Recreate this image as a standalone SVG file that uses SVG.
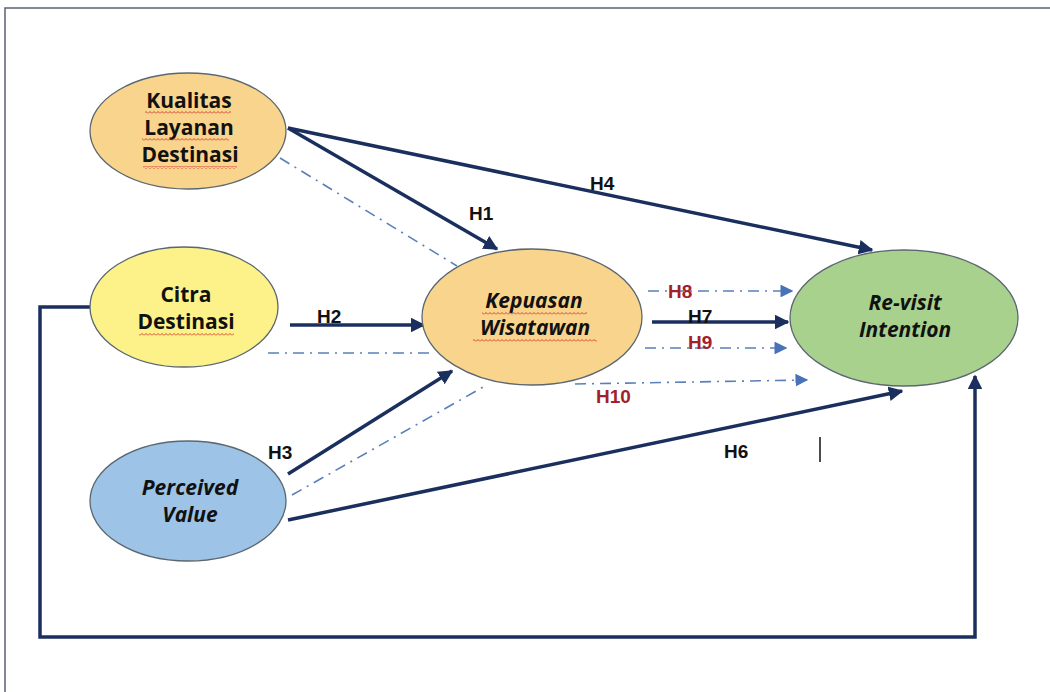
<svg xmlns="http://www.w3.org/2000/svg" width="1050" height="692" viewBox="0 0 1050 692">
<style>
.node{stroke:#5b6770;stroke-width:1.3}
.nt{font-family:"Open Sans","Liberation Sans",sans-serif;font-weight:700;font-size:21px;fill:#111;text-anchor:middle}
.it{font-style:italic}
.solid{fill:none;stroke:#1b2f5e;stroke-width:3.5}
.dd{fill:none;stroke:#5a7fba;stroke-width:1.6;stroke-dasharray:11 6 2 6}
.lbl{font-family:"Liberation Sans",Arial,sans-serif;font-weight:700;font-size:19px;fill:#111}
.red{fill:#a31f2a}
.wave{fill:url(#wv)}
</style>
<defs>
<marker id="ah" viewBox="0 0 10 10" refX="9" refY="5" markerWidth="4.2" markerHeight="4.2" orient="auto" markerUnits="strokeWidth"><path d="M0,0 L10,5 L0,10 Z" fill="#1b2f5e"/></marker>
<marker id="al" viewBox="0 0 10 10" refX="9" refY="5" markerWidth="8" markerHeight="8" orient="auto" markerUnits="strokeWidth"><path d="M0,0 L10,5 L0,10 Z" fill="#4a72b8"/></marker>
<pattern id="wv" width="4" height="3" patternUnits="userSpaceOnUse"><path d="M0,2.5 L2,0.5 L4,2.5" fill="none" stroke="#d0352b" stroke-width="0.9"/></pattern>
</defs>
<rect width="1050" height="692" fill="#fff"/>
<path d="M5,692 V8 H1050" fill="none" stroke="#5a6270" stroke-width="1.5"/>

<g id="connectors">
<path class="dd" d="M280,158 L457,266"/>
<path class="dd" d="M268,353 L432,353"/>
<path class="dd" d="M292,495 L485,386"/>
<path class="solid" marker-end="url(#ah)" d="M288,128 L497,249"/>
<path class="solid" marker-end="url(#ah)" d="M288,128 L872,250"/>
<path class="solid" marker-end="url(#ah)" d="M290,325 L424,325"/>
<path class="solid" marker-end="url(#ah)" d="M288,474 L452,371"/>
<path class="solid" marker-end="url(#ah)" d="M288,520 L902,391"/>
<path class="solid" marker-end="url(#ah)" d="M652,322 L788,322"/>
<path class="dd" marker-end="url(#al)" d="M648,291 L792,291"/>
<path class="dd" marker-end="url(#al)" d="M645,348 L786,348"/>
<path class="dd" marker-end="url(#al)" d="M575,384 L807,380"/>
<path class="solid" marker-end="url(#ah)" d="M91,307 H40 V637 H975 V376"/>
<text class="lbl" x="469" y="220">H1</text>
<text class="lbl" x="590" y="190">H4</text>
<text class="lbl" x="317" y="323">H2</text>
<text class="lbl" x="268" y="459">H3</text>
<text class="lbl red" x="668" y="298">H8</text>
<text class="lbl" x="688" y="323">H7</text>
<text class="lbl red" x="688" y="349">H9</text>
<text class="lbl red" x="596" y="403">H10</text>
<text class="lbl" x="724" y="458">H6</text>
<path d="M820,437 V462" stroke="#111" stroke-width="1.5"/>
</g>

<g id="kualitas">
<ellipse class="node" cx="188" cy="131" rx="98" ry="58" fill="#f9d48d"/>
<text class="nt" x="189" y="108">Kualitas</text>
<text class="nt" x="189" y="135">Layanan</text>
<text class="nt" x="190" y="162">Destinasi</text>
<rect class="wave" x="145" y="111" width="86" height="3"/>
<rect class="wave" x="142" y="138" width="87" height="3"/>
<rect class="wave" x="143" y="166" width="94" height="3"/>
</g>

<g id="citra">
<ellipse class="node" cx="184" cy="307" rx="94" ry="60" fill="#fdf28a"/>
<text class="nt" x="186" y="302">Citra</text>
<text class="nt" x="186" y="329">Destinasi</text>
<rect class="wave" x="139" y="333" width="95" height="3"/>
</g>

<g id="perceived">
<ellipse class="node" cx="188" cy="501" rx="98" ry="60" fill="#9dc3e6"/>
<text class="nt it" x="190" y="495">Perceived</text>
<text class="nt it" x="190" y="522">Value</text>
</g>

<g id="kepuasan">
<ellipse class="node" cx="532" cy="317" rx="110" ry="68" fill="#f9d48d"/>
<text class="nt it" x="534" y="308">Kepuasan</text>
<text class="nt it" x="535" y="335">Wisatawan</text>
<rect class="wave" x="482" y="312" width="105" height="3"/>
<rect class="wave" x="473" y="339" width="124" height="3"/>
</g>

<g id="revisit">
<ellipse class="node" cx="904" cy="318" rx="114" ry="68" fill="#a9d18e"/>
<text class="nt it" x="905" y="310">Re-visit</text>
<text class="nt it" x="905" y="337">Intention</text>
</g>
</svg>
